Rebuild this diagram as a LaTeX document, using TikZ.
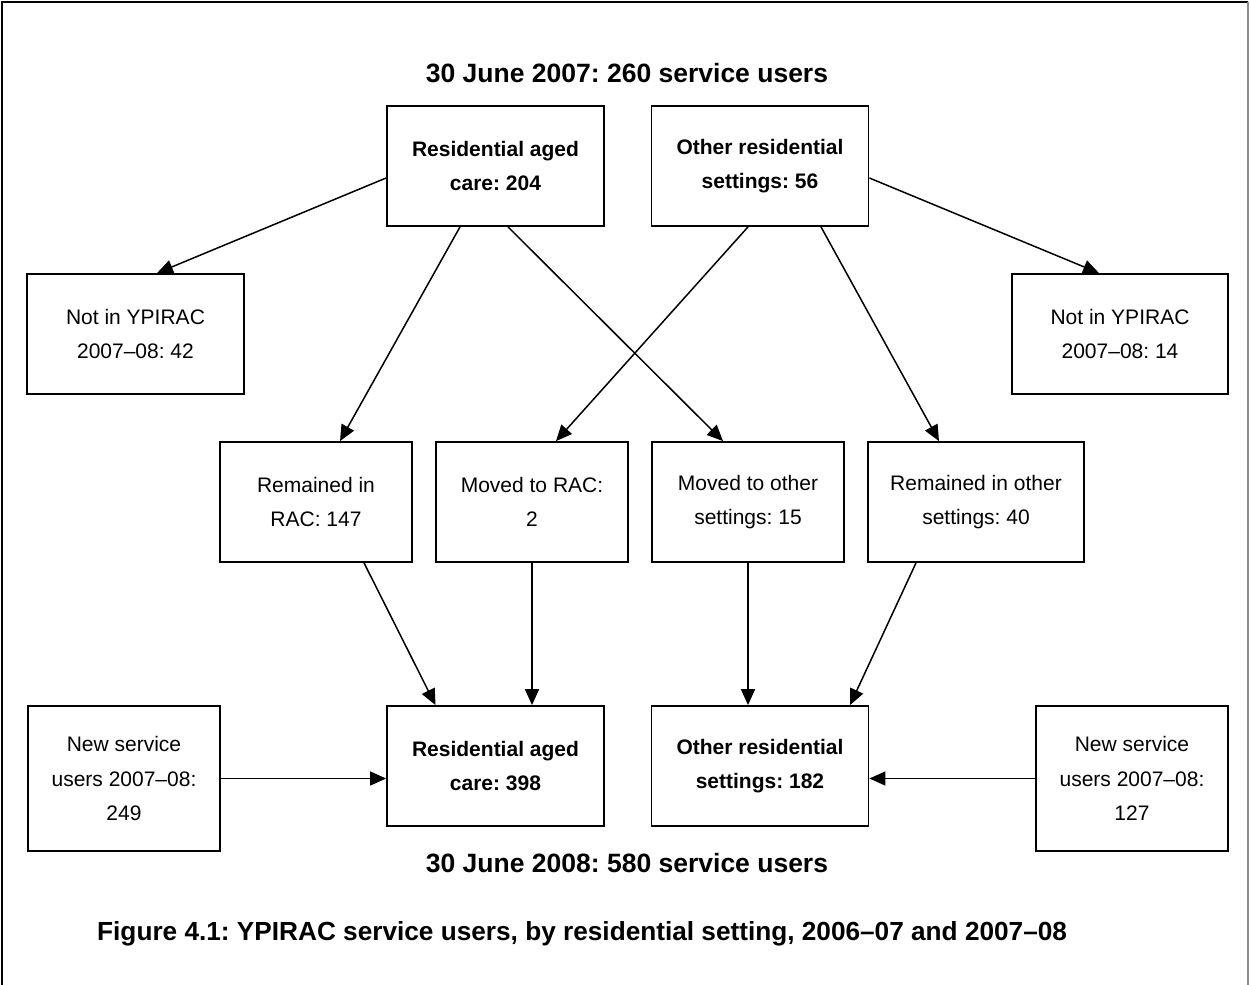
\documentclass[tikz,border=0pt]{standalone}
\usepackage{fontspec}
\setmainfont{Liberation Sans}
\usetikzlibrary{arrows.meta}
\tikzset{
  box/.style={draw, line width=1.8pt, rectangle, align=center, inner sep=0pt,
    minimum height=120pt, font=\fontsize{21}{34.5}\selectfont},
  boldbox/.style={box, font=\fontsize{21}{34.5}\selectfont\bfseries},
  flow/.style={line width=1.5pt, -{Triangle[length=16pt,width=14pt]}},
  heading/.style={font=\fontsize{26.5}{30}\selectfont\bfseries, inner sep=0pt},
  captionstyle/.style={font=\fontsize{26.2}{30}\selectfont\bfseries, inner sep=0pt}
}
\frenchspacing
\begin{document}
\frenchspacing
\begin{tikzpicture}[x=1pt,y=-1pt]
\useasboundingbox (0,0) rectangle (1250,985);
\draw[line width=2pt] (2,985) -- (2,2) -- (1248,2);
\draw[line width=1.5pt, black!45] (1248,2) -- (1248,985);

\node[heading] (t1) at (627,73) {30 June 2007: 260 service users};
\node[heading] (t2) at (627,863) {30 June 2008: 580 service users};
\node[captionstyle, anchor=west] (cap) at (97,934) {Figure 4.1: YPIRAC service users, by residential setting, 2006–07 and 2007–08};

\node[boldbox, minimum width=217pt] (rac1) at (495.5,166) {Residential aged\\care: 204};
\node[boldbox, minimum width=217pt] (oth1) at (760,166) {Other residential\\settings: 56};
\node[box, minimum width=217pt] (notL) at (135.5,334) {Not in YPIRAC\\2007–08: 42};
\node[box, minimum width=216pt] (notR) at (1120,334) {Not in YPIRAC\\2007–08: 14};
\node[box, minimum width=192pt] (remR) at (316,502) {Remained in\\RAC: 147};
\node[box, minimum width=192pt] (movR) at (532,502) {Moved to RAC:\\2};
\node[box, minimum width=192pt] (movO) at (748,502) {Moved to other\\settings: 15};
\node[box, minimum width=216pt] (remO) at (976,502) {Remained in other\\settings: 40};
\node[boldbox, minimum width=217pt] (rac2) at (495.5,766) {Residential aged\\care: 398};
\node[boldbox, minimum width=217pt] (oth2) at (760,766) {Other residential\\settings: 182};
\node[box, minimum width=192pt, minimum height=145pt] (newL) at (124,778.5) {New service\\users 2007–08:\\249};
\node[box, minimum width=192pt, minimum height=145pt] (newR) at (1132,778.5) {New service\\users 2007–08:\\127};

\draw[flow] ([yshift=-12pt]rac1.west) -- ([xshift=21.5pt]notL.north);
\draw[flow] ([xshift=-35.5pt]rac1.south) -- ([xshift=24pt]remR.north);
\draw[flow] ([xshift=12.5pt]rac1.south) -- ([xshift=-25pt]movO.north);
\draw[flow] ([xshift=-12pt]oth1.south) -- ([xshift=24pt]movR.north);
\draw[flow] ([xshift=61pt]oth1.south) -- ([xshift=-37pt]remO.north);
\draw[flow] ([yshift=-12pt]oth1.east) -- ([xshift=-21pt]notR.north);
\draw[flow] ([xshift=48pt]remR.south) -- ([xshift=-60pt]rac2.north);
\draw[flow] (movR.south) -- ([xshift=36.5pt]rac2.north);
\draw[flow] (movO.south) -- ([xshift=-12pt]oth2.north);
\draw[flow] ([xshift=-60pt]remO.south) -- ([xshift=90pt]oth2.north);
\draw[flow] (newL.east) -- (rac2.west |- newL.east);
\draw[flow] (newR.west) -- (oth2.east |- newR.west);
\end{tikzpicture}
\end{document}
